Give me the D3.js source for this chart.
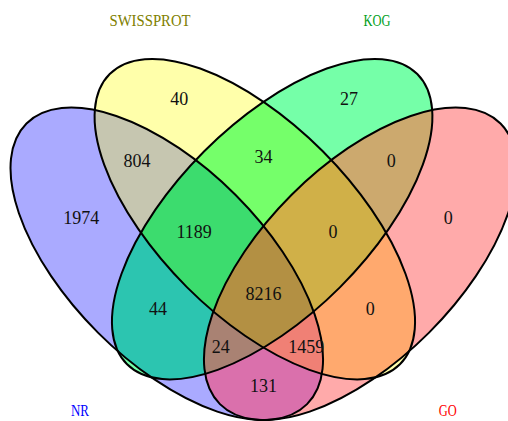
<!DOCTYPE html>
<html>
<head>
<meta charset="utf-8">
<script src="https://cdn.jsdelivr.net/npm/d3@7"></script>
<style>
    body { margin: 0; background: #fff; }
    svg { display: block; }
</style>
</head>
<body>
<svg id="venn"></svg>
<script>
// ---- data ----
var sets = ["NR", "SWISSPROT", "KOG", "GO"];
var regionMembers = [
    ["NR"], ["SWISSPROT"], ["KOG"], ["GO"],
    ["NR", "SWISSPROT"], ["NR", "KOG"], ["NR", "GO"],
    ["SWISSPROT", "KOG"], ["SWISSPROT", "GO"], ["KOG", "GO"],
    ["NR", "SWISSPROT", "KOG"], ["NR", "SWISSPROT", "GO"],
    ["NR", "KOG", "GO"], ["SWISSPROT", "KOG", "GO"],
    ["NR", "SWISSPROT", "KOG", "GO"]
];
var regionCounts = [1974, 40, 27, 0, 804, 44, 131, 34, 0, 0, 1189, 1459, 24, 0, 8216];

// ---- layout (unit square, y up) ----
var shapes = {
    NR:        { cx: 0.344, cy: 0.505, a: 0.320, b: 0.157, rot: 45 },
    SWISSPROT: { cx: 0.486, cy: 0.577, a: 0.331, b: 0.155, rot: 45 },
    KOG:       { cx: 0.514, cy: 0.577, a: 0.331, b: 0.155, rot: -45 },
    GO:        { cx: 0.656, cy: 0.505, a: 0.320, b: 0.157, rot: -45 }
};
var regionLabelPos = [
    [0.206, 0.580], [0.364, 0.772], [0.638, 0.772], [0.798, 0.580],
    [0.296, 0.671], [0.330, 0.432], [0.500, 0.308],
    [0.500, 0.677], [0.672, 0.432], [0.706, 0.671],
    [0.388, 0.556], [0.569, 0.372],
    [0.431, 0.372], [0.612, 0.556],
    [0.500, 0.456]
];
var setLabelPos = { NR: [0.204, 0.269], SWISSPROT: [0.317, 0.898], KOG: [0.683, 0.898], GO: [0.797, 0.269] };

// ---- style ----
var regionColors = [
    "#aaaaff", "#ffffaa", "#75ffa8", "#ffaaaa",
    "#c6c6b0", "#2cc5b0", "#da70ac",
    "#75ff6a", "#ffa96e", "#cca96e",
    "#3cdc6e", "#f08075",
    "#a98273", "#d0b048",
    "#b39043"
];
var setLabelColors = { NR: "#0000ff", SWISSPROT: "#808000", KOG: "#00a020", GO: "#ff0000" };

var width = 508, height = 421;
var x = d3.scaleLinear().domain([0, 1]).range([-46.5, 573.5]);
var y = d3.scaleLinear().domain([0, 1]).range([576.9, -43.1]);
var unit = x(1) - x(0);

var svg = d3.select("#venn").attr("width", width).attr("height", height);
var defs = svg.append("defs");

function addEllipse(sel, name) {
    var s = shapes[name];
    return sel.append("ellipse")
        .attr("rx", s.a * unit)
        .attr("ry", s.b * unit)
        .attr("transform", "translate(" + x(s.cx) + "," + y(s.cy) + ") rotate(" + s.rot + ")");
}

// one clip per set
sets.forEach(function (name, i) {
    addEllipse(defs.append("clipPath").attr("id", "clip-" + i), name);
});

// fill each region: clip by its sets, mask out the others
var regions = svg.append("g");
regionMembers.forEach(function (members, r) {
    var mask = defs.append("mask").attr("id", "mask-" + r)
        .attr("maskUnits", "userSpaceOnUse")
        .attr("x", 0).attr("y", 0).attr("width", width).attr("height", height);
    mask.append("rect").attr("width", width).attr("height", height).attr("fill", "#fff");
    sets.forEach(function (name) {
        if (members.indexOf(name) < 0) addEllipse(mask, name).attr("fill", "#000");
    });
    var node = regions;
    members.forEach(function (name) {
        node = node.append("g").attr("clip-path", "url(#clip-" + sets.indexOf(name) + ")");
    });
    node.append("rect")
        .attr("width", width).attr("height", height)
        .attr("mask", "url(#mask-" + r + ")")
        .attr("fill", regionColors[r]);
});

// outlines
var outlines = svg.append("g").attr("fill", "none").attr("stroke", "#000").attr("stroke-width", 2);
sets.forEach(function (name) { addEllipse(outlines, name); });

// counts
svg.append("g").selectAll("text")
    .data(regionCounts)
    .enter().append("text")
    .attr("x", function (d, i) { return x(regionLabelPos[i][0]); })
    .attr("y", function (d, i) { return y(regionLabelPos[i][1]); })
    .attr("dy", "0.35em")
    .attr("text-anchor", "middle")
    .style("font-family", "'Liberation Serif', 'DejaVu Serif', serif")
    .style("font-size", "18px")
    .attr("fill", "#111")
    .text(function (d) { return d; });

// set names (half-width glyphs, 9px per char)
svg.append("g").selectAll("text")
    .data(sets)
    .enter().append("text")
    .attr("x", function (d) { return x(setLabelPos[d][0]); })
    .attr("y", function (d) { return y(setLabelPos[d][1]); })
    .attr("dy", "0.35em")
    .attr("text-anchor", "middle")
    .attr("textLength", function (d) { return d.length * 9; })
    .attr("lengthAdjust", "spacingAndGlyphs")
    .style("font-family", "'Liberation Serif', 'DejaVu Serif', serif")
    .style("font-size", "17px")
    .attr("fill", function (d) { return setLabelColors[d]; })
    .text(function (d) { return d; });
</script>
</body>
</html>
